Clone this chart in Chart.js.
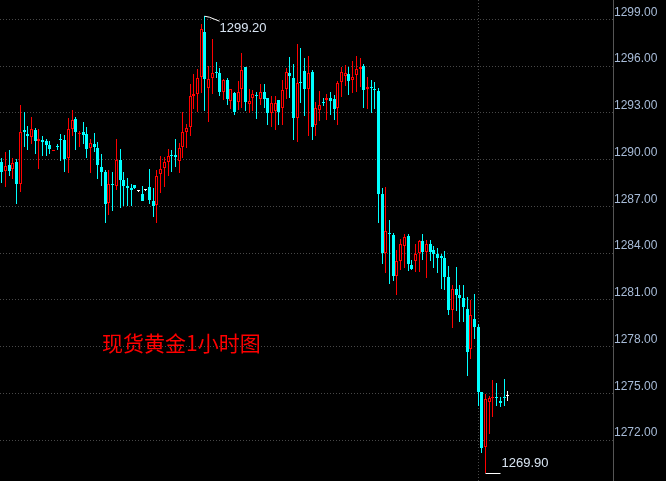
<!DOCTYPE html>
<html lang="zh-CN">
<head>
<meta charset="UTF-8">
<title>现货黄金1小时图</title>
<script src="https://cdn.jsdelivr.net/npm/chart.js"></script>
<style>
  html, body { margin: 0; padding: 0; background: #000; }
  canvas { display: block; }
</style>
</head>
<body>
<canvas id="goldChart" width="666" height="481"></canvas>
<script>
// hourly candles
var opens = [
  1289.85, 1289.27, 1289.63, 1289.40, 1289.85, 1288.41, 1291.88, 1291.65, 1291.45, 1291.88,
  1291.20, 1291.24, 1291.18, 1290.92, 1290.56, 1290.90, 1291.31, 1291.24, 1290.10, 1291.97,
  1292.59, 1291.65, 1291.78, 1291.63, 1290.77, 1290.99, 1290.73, 1289.51, 1289.21, 1287.21,
  1288.41, 1288.33, 1290.00, 1288.67, 1288.28, 1288.20, 1288.35, 1287.96, 1287.81, 1288.07,
  1288.27, 1287.32, 1287.08, 1289.10, 1289.46, 1289.87, 1290.32, 1290.28, 1289.91, 1290.81,
  1291.78, 1292.10, 1294.11, 1294.22, 1295.31, 1298.20, 1294.60, 1295.25, 1295.60, 1295.53,
  1294.35, 1295.10, 1293.75, 1294.24, 1293.70, 1294.56, 1295.93, 1293.57, 1293.92, 1294.11,
  1293.88, 1294.35, 1293.92, 1292.96, 1293.11, 1293.81, 1293.28, 1294.56, 1295.53, 1295.21,
  1292.68, 1294.98, 1295.68, 1294.52, 1295.59, 1292.21, 1293.17, 1293.66, 1293.83, 1293.96,
  1293.88, 1293.28, 1294.99, 1295.38, 1295.46, 1295.10, 1295.42, 1295.80, 1296.02, 1294.52,
  1294.65, 1294.54, 1294.39, 1287.82, 1284.03, 1285.26, 1285.14, 1282.55, 1283.48, 1284.43,
  1285.07, 1283.21, 1283.49, 1283.99, 1284.75, 1284.06, 1284.56, 1284.17, 1283.91, 1283.78,
  1283.70, 1282.46, 1280.32, 1281.67, 1281.33, 1281.11, 1280.38, 1277.81, 1279.74, 1279.24,
  1275.07, 1271.53, 1274.47, 1274.68, 1274.79, 1274.53, 1274.75, 1274.81
];
var highs = [
  1290.07, 1290.49, 1290.64, 1290.07, 1290.02, 1293.49, 1293.04, 1292.14, 1292.70, 1292.03,
  1291.93, 1291.50, 1291.35, 1291.18, 1290.62, 1290.97, 1291.63, 1291.56, 1292.64, 1293.17,
  1292.74, 1291.84, 1292.38, 1292.08, 1291.31, 1291.71, 1291.13, 1290.34, 1289.36, 1289.31,
  1289.19, 1291.31, 1290.66, 1289.19, 1288.80, 1288.46, 1288.35, 1287.96, 1288.28, 1288.07,
  1289.42, 1288.18, 1289.31, 1290.21, 1290.19, 1290.66, 1290.64, 1291.31, 1291.07, 1293.06,
  1292.27, 1294.84, 1295.48, 1295.79, 1298.70, 1299.20, 1296.00, 1297.73, 1296.24, 1295.85,
  1295.20, 1295.21, 1294.56, 1294.35, 1295.03, 1296.83, 1295.93, 1294.56, 1294.46, 1294.35,
  1294.82, 1294.82, 1293.96, 1294.05, 1294.09, 1293.81, 1295.10, 1295.85, 1296.60, 1296.11,
  1297.39, 1297.16, 1296.50, 1296.64, 1295.74, 1293.70, 1294.39, 1293.92, 1294.18, 1294.35,
  1294.13, 1295.03, 1295.95, 1296.06, 1295.95, 1296.32, 1296.64, 1296.49, 1296.11, 1295.31,
  1295.10, 1294.99, 1294.60, 1288.20, 1288.24, 1286.10, 1285.28, 1284.17, 1284.93, 1285.20,
  1285.20, 1283.57, 1284.60, 1284.82, 1285.25, 1284.82, 1284.82, 1284.43, 1284.34, 1283.91,
  1284.11, 1283.16, 1281.97, 1283.10, 1281.97, 1281.97, 1281.17, 1280.96, 1281.39, 1279.46,
  1275.11, 1274.96, 1274.81, 1275.88, 1275.67, 1274.75, 1275.93, 1275.17
];
var lows = [
  1288.50, 1288.24, 1288.93, 1288.78, 1287.13, 1287.92, 1290.81, 1290.64, 1291.03, 1290.34,
  1289.40, 1290.23, 1290.23, 1290.34, 1290.55, 1290.60, 1289.91, 1289.21, 1289.14, 1291.50,
  1290.60, 1290.81, 1291.03, 1290.10, 1289.14, 1290.49, 1288.75, 1288.30, 1285.93, 1286.42,
  1286.68, 1288.07, 1286.90, 1287.02, 1287.02, 1287.02, 1288.14, 1287.96, 1287.34, 1288.07,
  1287.15, 1286.29, 1285.93, 1287.86, 1288.24, 1288.93, 1289.21, 1289.52, 1289.14, 1290.10,
  1290.75, 1291.50, 1293.22, 1293.06, 1294.24, 1293.11, 1292.38, 1294.18, 1295.25, 1294.09,
  1293.81, 1293.49, 1293.23, 1292.89, 1293.17, 1293.28, 1293.11, 1292.96, 1293.11, 1292.59,
  1293.53, 1293.28, 1292.21, 1292.10, 1291.88, 1292.21, 1292.21, 1293.88, 1293.92, 1291.24,
  1291.10, 1293.66, 1292.80, 1291.52, 1291.24, 1291.52, 1292.46, 1293.45, 1292.53, 1292.89,
  1292.53, 1292.21, 1294.02, 1294.73, 1294.13, 1294.24, 1294.35, 1294.67, 1293.28, 1293.23,
  1292.96, 1293.23, 1285.95, 1283.32, 1282.71, 1282.03, 1282.18, 1281.28, 1282.89, 1283.06,
  1282.84, 1282.89, 1282.78, 1282.78, 1283.57, 1282.42, 1283.49, 1283.06, 1282.74, 1281.67,
  1281.60, 1280.00, 1279.18, 1280.25, 1279.56, 1279.56, 1276.09, 1277.21, 1278.50, 1274.17,
  1271.17, 1269.90, 1272.39, 1273.46, 1274.17, 1274.10, 1274.21, 1274.53
];
var closes = [
  1289.21, 1289.57, 1289.27, 1289.78, 1288.41, 1291.76, 1291.76, 1291.52, 1291.93, 1291.18,
  1291.29, 1291.11, 1290.92, 1290.68, 1290.60, 1290.81, 1291.26, 1290.04, 1291.93, 1292.53,
  1291.80, 1291.71, 1291.56, 1290.68, 1291.09, 1290.81, 1289.65, 1289.21, 1287.17, 1288.46,
  1288.35, 1289.96, 1288.67, 1288.30, 1288.18, 1288.03, 1288.20, 1287.96, 1287.34, 1288.07,
  1287.39, 1287.00, 1288.97, 1289.42, 1289.83, 1290.26, 1290.24, 1290.17, 1290.77, 1291.74,
  1292.01, 1294.11, 1294.20, 1295.23, 1298.38, 1295.16, 1295.16, 1295.53, 1295.55, 1294.35,
  1295.10, 1293.88, 1294.50, 1293.02, 1294.31, 1295.74, 1293.70, 1293.79, 1294.18, 1294.06,
  1294.35, 1293.88, 1292.96, 1293.66, 1293.66, 1293.02, 1294.46, 1295.59, 1295.38, 1292.68,
  1294.89, 1294.92, 1294.52, 1295.53, 1292.10, 1293.28, 1293.53, 1293.62, 1293.92, 1293.75,
  1293.23, 1294.89, 1295.59, 1295.53, 1295.03, 1295.33, 1295.80, 1295.95, 1294.46, 1294.67,
  1294.60, 1294.48, 1287.82, 1284.03, 1285.39, 1285.20, 1282.50, 1283.46, 1284.55, 1285.03,
  1283.27, 1282.97, 1283.96, 1284.75, 1284.06, 1284.56, 1284.06, 1283.91, 1283.68, 1283.68,
  1282.46, 1280.32, 1281.71, 1281.33, 1281.11, 1280.53, 1277.68, 1280.00, 1279.24, 1275.07,
  1271.47, 1274.64, 1274.68, 1274.74, 1274.68, 1274.39, 1274.71, 1274.81
];
var yTicks = [1272, 1275, 1278, 1281, 1284, 1287, 1290, 1293, 1296, 1299];
var slotCount = 166;   // room for empty hours to the right
var dayBreak = 129;    // dotted vertical line
var chartTitle = '现货黄金1小时图';

var upColor = '#ff0000', downColor = '#00ffff', flatColor = '#ffffff';

function candleColor(i) {
    if (closes[i] > opens[i]) return upColor;
    if (closes[i] < opens[i]) return downColor;
    return flatColor;
}

var labels = [];
for (var s = 0; s < slotCount; s++) labels.push(s);

var bodies = opens.map(function(o, i) { return [o, closes[i]]; });
var wicks = lows.map(function(l, i) { return [l, highs[i]]; });
var lineColors = opens.map(function(o, i) { return candleColor(i); });
var fillColors = opens.map(function(o, i) {
    return closes[i] > opens[i] ? '#000000' : candleColor(i);
});

// snap bars to whole pixels so the 1px outlines stay sharp
var snapPlugin = {
    id: 'snap',
    beforeDatasetsDraw: function(chart) {
        chart.data.datasets.forEach(function(ds, d) {
            chart.getDatasetMeta(d).data.forEach(function(el) {
                if (el.x == null || isNaN(el.x)) return;
                el.x = Math.floor(el.x) + 0.5;
                var top = Math.round(Math.min(el.y, el.base));
                var bot = Math.round(Math.max(el.y, el.base));
                if (bot <= top) bot = top + 1;
                el.y = top;
                el.base = bot;
            });
        });
    }
};

// high / low labels and the red caption
var markPlugin = {
    id: 'marks',
    afterDatasetsDraw: function(chart) {
        var ctx = chart.ctx, xs = chart.scales.x, ys = chart.scales.y;
        var hi = highs.indexOf(Math.max.apply(null, highs));
        var lo = lows.indexOf(Math.min.apply(null, lows));
        var hx = Math.floor(xs.getPixelForValue(hi)) + 0.5, hy = ys.getPixelForValue(highs[hi]);
        var lx = Math.floor(xs.getPixelForValue(lo)) + 0.5, ly = ys.getPixelForValue(lows[lo]);
        ctx.save();
        ctx.strokeStyle = '#ffffff';
        ctx.lineWidth = 1;
        ctx.beginPath();
        ctx.moveTo(hx, hy);
        ctx.lineTo(hx + 5, hy + 1);
        ctx.lineTo(hx + 15, hy + 5);
        ctx.stroke();
        ctx.beginPath();
        ctx.moveTo(lx, Math.round(ly) + 0.5);
        ctx.lineTo(lx + 15, Math.round(ly) + 0.5);
        ctx.stroke();
        ctx.font = '13px "Liberation Sans", Arial, sans-serif';
        ctx.fillStyle = '#d8e4f2';
        ctx.textBaseline = 'middle';
        ctx.textAlign = 'left';
        ctx.fillText(highs[hi].toFixed(2), hx + 15, hy + 12);
        ctx.fillText(lows[lo].toFixed(2), lx + 16, ly - 9);
        ctx.font = '21px "Noto Sans CJK SC", sans-serif';
        ctx.fillStyle = '#ff0000';
        ctx.fillText(chartTitle, 102, 343);
        ctx.restore();
    }
};

var ctx = document.getElementById('goldChart').getContext('2d');
var goldChart = new Chart(ctx, {
    type: 'bar',
    data: {
        labels: labels,
        datasets: [{
            label: 'wick',
            data: wicks,
            backgroundColor: lineColors,
            borderWidth: 0,
            barThickness: 1,
            grouped: false,
            inflateAmount: 0,
            order: 2
        }, {
            label: 'body',
            data: bodies,
            backgroundColor: fillColors,
            borderColor: lineColors,
            borderWidth: 1,
            borderSkipped: false,
            barThickness: 3,
            minBarLength: 1,
            grouped: false,
            inflateAmount: 0,
            order: 1
        }]
    },
    options: {
        responsive: false,
        animation: false,
        events: [],
        layout: { padding: 0 },
        plugins: {
            legend: { display: false },
            tooltip: { enabled: false },
            title: { display: false }
        },
        scales: {
            x: {
                display: true,
                ticks: { display: false },
                grid: { color: '#484848', drawTicks: false, offset: false },
                border: { display: false, dash: [1, 2] },
                afterBuildTicks: function(scale) {
                    scale.ticks = [{ value: dayBreak }];
                },
                afterFit: function(scale) {
                    scale.height = 0;
                    scale.paddingLeft = 0;
                    scale.paddingRight = 0;
                }
            },
            y: {
                position: 'right',
                min: 1269.37,
                max: 1300.24,
                grid: { color: '#484848', drawTicks: false },
                border: { display: true, color: '#555555', width: 1, dash: [1, 2] },
                ticks: {
                    color: '#a8bcd8',
                    padding: 1,
                    labelOffset: -7,
                    font: { family: '"Liberation Sans", Arial, sans-serif', size: 12 },
                    callback: function(v) { return Number(v).toFixed(2); }
                },
                afterBuildTicks: function(scale) {
                    scale.ticks = yTicks.map(function(v) { return { value: v }; });
                },
                afterFit: function(scale) {
                    scale.width = 53;
                    scale.paddingTop = 0;
                    scale.paddingBottom = 0;
                }
            }
        }
    },
    plugins: [snapPlugin, markPlugin]
});
</script>
</body>
</html>
